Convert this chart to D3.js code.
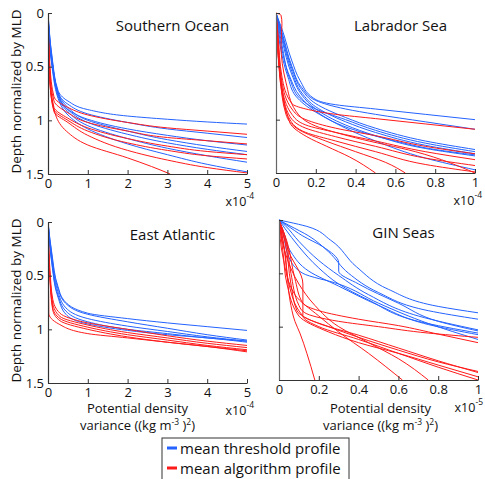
<!DOCTYPE html>
<html>
<head>
<meta charset="utf-8">
<script src="https://cdn.jsdelivr.net/npm/d3@7"></script>
<style>
  body { margin: 0; background: #fff; }
  text { font-family: "Open Sans", "Noto Sans", sans-serif; fill: #111; }
</style>
</head>
<body>
<div id="chart"></div>
<script>
// regions shown in the four panels
const regions = ["Southern Ocean", "Labrador Sea", "East Atlantic", "GIN Seas"];
const xMaxes = [5, 1, 5, 1];
const xTicksWide = [0, 1, 2, 3, 4, 5];
const xTicksNarrow = [0, 0.2, 0.4, 0.6, 0.8, 1];
const yTicks = [0, 0.5, 1, 1.5];
const exponents = ["-4", "-4", "-4", "-5"];
const legendLabels = ["mean threshold profile", "mean algorithm profile"];

// profiles: [variance, normalized depth]
const soBlue = [
  [[0,0],[0.1,0.4],[0.25,0.72],[0.5,0.82],[1,0.9],[2,0.96],[3,0.99],[4,1.015],[5,1.035]],
  [[0,0],[0.1,0.42],[0.25,0.74],[0.5,0.85],[1,0.94],[2,1.02],[3,1.08],[4,1.12],[5,1.16]],
  [[0,0],[0.1,0.45],[0.3,0.78],[0.5,0.88],[1,1.0],[2,1.1],[3,1.18],[4,1.24],[5,1.29]],
  [[0,0],[0.1,0.45],[0.3,0.8],[0.5,0.9],[1,1.02],[2,1.13],[3,1.21],[4,1.27],[5,1.32]],
  [[0,0],[0.1,0.48],[0.3,0.82],[0.5,0.92],[1,1.05],[2,1.17],[3,1.26],[4,1.33],[5,1.39]],
  [[0,0],[0.1,0.5],[0.3,0.84],[0.5,0.95],[1,1.08],[2,1.22],[3,1.32],[4,1.41],[5,1.48]],
  [[0,0],[0.1,0.44],[0.3,0.8],[0.5,0.9],[1,0.99],[2,1.08],[3,1.14],[4,1.19],[5,1.23]]
];
const soRed = [
  [[0,0],[0.05,0.5],[0.15,0.78],[0.5,0.88],[1,0.95],[2,1.02],[3,1.07],[4,1.1],[5,1.13]],
  [[0,0],[0.05,0.55],[0.15,0.82],[0.5,0.93],[1,1.02],[2,1.1],[3,1.16],[4,1.19],[5,1.22]],
  [[0,0],[0.05,0.6],[0.15,0.88],[0.5,0.98],[1,1.07],[2,1.17],[3,1.24],[4,1.29],[5,1.32]],
  [[0,0],[0.05,0.62],[0.15,0.9],[0.5,1.0],[1,1.1],[2,1.21],[3,1.28],[4,1.33],[5,1.36]],
  [[0,0],[0.05,0.65],[0.15,0.92],[0.5,1.02],[1,1.14],[2,1.28],[3,1.37],[4,1.44],[5,1.49]],
  [[0,0],[0.05,0.66],[0.2,0.96],[0.46,1.1],[1,1.23],[2,1.35],[2.6,1.43],[3.07,1.5]]
];
const lsBlue = [
  [[0,0],[0.03,0.15],[0.08,0.45],[0.12,0.63],[0.19,0.8],[0.3,0.86],[0.5,0.9],[0.75,0.95],[1,1.0]],
  [[0,0],[0.03,0.18],[0.08,0.5],[0.13,0.7],[0.2,0.82],[0.35,0.9],[0.5,0.95],[0.75,1.02],[1,1.09]],
  [[0,0],[0.03,0.2],[0.08,0.52],[0.13,0.72],[0.2,0.85],[0.35,0.98],[0.5,1.08],[0.75,1.2],[1,1.28]],
  [[0,0],[0.03,0.22],[0.08,0.55],[0.13,0.75],[0.2,0.88],[0.35,1.02],[0.5,1.12],[0.75,1.24],[1,1.32]],
  [[0,0],[0.03,0.25],[0.08,0.58],[0.13,0.77],[0.2,0.9],[0.35,1.05],[0.5,1.15],[0.75,1.27],[1,1.34]],
  [[0,0],[0.02,0.25],[0.07,0.6],[0.12,0.78],[0.2,0.92],[0.35,1.08],[0.5,1.2],[0.75,1.36],[1,1.47]],
  [[0,0],[0.03,0.3],[0.07,0.62],[0.12,0.8],[0.2,0.9],[0.35,1.0],[0.5,1.1],[0.75,1.22],[1,1.3]],
  [[0,0],[0.02,0.3],[0.06,0.6],[0.1,0.78],[0.2,0.93],[0.4,1.1],[0.6,1.2],[0.8,1.28],[1,1.33]]
];
const lsRed = [
  [[0,0],[0.01,0.2],[0.03,0.6],[0.08,0.85],[0.15,0.9],[0.3,0.95],[0.5,0.99],[0.75,1.04],[1,1.09]],
  [[0,0],[0.01,0.25],[0.03,0.65],[0.08,0.9],[0.15,1.0],[0.3,1.08],[0.5,1.15],[0.75,1.25],[1,1.32]],
  [[0,0],[0.01,0.3],[0.03,0.7],[0.08,0.95],[0.15,1.05],[0.3,1.12],[0.5,1.2],[0.75,1.3],[1,1.375]],
  [[0,0],[0.01,0.3],[0.03,0.72],[0.07,0.97],[0.15,1.08],[0.3,1.16],[0.5,1.25],[0.75,1.36],[1,1.43]],
  [[0,0],[0.01,0.35],[0.03,0.75],[0.07,1.0],[0.15,1.12],[0.3,1.2],[0.5,1.3],[0.75,1.42],[1,1.49]],
  [[0,0],[0.01,0.35],[0.02,0.6],[0.05,0.95],[0.12,1.1],[0.25,1.2],[0.4,1.3],[0.55,1.4],[0.65,1.5]],
  [[0,0],[0.01,0.4],[0.02,0.56],[0.07,1.03],[0.155,1.16],[0.255,1.25],[0.37,1.35],[0.5,1.5]],
  [[0,0],[0.025,0.02],[0.03,0.1],[0.025,0.3],[0.05,0.65],[0.1,0.92],[0.2,1.06],[0.4,1.17],[0.7,1.3],[1,1.5]]
];
const eaBlue = [
  [[0,0],[0.1,0.3],[0.25,0.6],[0.4,0.73],[1,0.85],[2,0.9],[3,0.94],[4,0.975],[5,1.01]],
  [[0,0],[0.1,0.32],[0.25,0.62],[0.45,0.76],[1,0.86],[2,0.93],[3,0.99],[4,1.05],[5,1.1]],
  [[0,0],[0.1,0.35],[0.25,0.65],[0.45,0.8],[1,0.9],[2,0.97],[3,1.02],[4,1.07],[5,1.11]],
  [[0,0],[0.1,0.38],[0.25,0.68],[0.45,0.83],[1,0.93],[2,1.0],[3,1.04],[4,1.08],[5,1.11]],
  [[0,0],[0.1,0.4],[0.25,0.7],[0.45,0.86],[1,0.95],[2,1.01],[3,1.05],[4,1.08],[5,1.12]]
];
const eaRed = [
  [[0,0],[0.05,0.45],[0.12,0.72],[0.3,0.85],[1,0.94],[2,1.0],[3,1.06],[4,1.11],[5,1.15]],
  [[0,0],[0.05,0.5],[0.12,0.76],[0.3,0.88],[1,0.96],[2,1.03],[3,1.08],[4,1.13],[5,1.17]],
  [[0,0],[0.05,0.52],[0.12,0.8],[0.3,0.9],[1,0.98],[2,1.05],[3,1.1],[4,1.15],[5,1.19]],
  [[0,0],[0.05,0.55],[0.12,0.82],[0.3,0.92],[1,1.0],[2,1.07],[3,1.12],[4,1.16],[5,1.2]],
  [[0,0],[0.01,0.4],[0.02,0.85],[0.27,0.95],[1,1.04],[2,1.08],[3,1.12],[4,1.16],[5,1.21]]
];
const ginBlue = [
  [[0,0],[0.05,0.02],[0.14,0.06],[0.26,0.19],[0.39,0.44],[0.55,0.65],[0.8,0.81],[1,0.87]],
  [[0,0],[0.05,0.05],[0.15,0.15],[0.25,0.3],[0.35,0.5],[0.5,0.68],[0.75,0.85],[1,0.93]],
  [[0,0],[0.03,0.05],[0.1,0.2],[0.2,0.38],[0.3,0.52],[0.45,0.7],[0.7,0.9],[1,1.03]],
  [[0,0],[0.03,0.08],[0.1,0.25],[0.2,0.45],[0.3,0.6],[0.45,0.75],[0.7,0.95],[1,1.06]],
  [[0,0],[0.02,0.1],[0.06,0.3],[0.15,0.48],[0.3,0.62],[0.5,0.8],[0.75,0.98],[1,1.075]],
  [[0,0],[0.02,0.12],[0.05,0.35],[0.12,0.5],[0.3,0.6],[0.5,0.78],[0.75,0.97],[1,1.12]],
  [[0,0],[0.04,0.05],[0.12,0.15],[0.22,0.25],[0.3,0.4],[0.3,0.48],[0.4,0.6],[0.6,0.78],[0.8,0.95],[1,1.04]]
];
const ginRed = [
  [[0,0],[0.02,0.19],[0.04,0.5],[0.055,0.75],[0.08,0.95],[0.105,1.06],[0.14,1.25],[0.18,1.5]],
  [[0,0],[0.03,0.15],[0.06,0.5],[0.1,0.8],[0.13,0.87],[0.3,0.95],[0.5,1.0],[0.75,1.06],[1,1.1]],
  [[0,0],[0.04,0.2],[0.08,0.55],[0.12,0.78],[0.2,0.85],[0.4,0.93],[0.6,0.99],[0.8,1.07],[1,1.15]],
  [[0,0],[0.03,0.3],[0.05,0.6],[0.12,0.9],[0.25,1.0],[0.4,1.1],[0.6,1.22],[0.8,1.33],[1,1.42]],
  [[0,0],[0.02,0.3],[0.04,0.6],[0.1,0.9],[0.25,1.05],[0.4,1.15],[0.6,1.25],[0.8,1.36],[1,1.47]],
  [[0,0],[0.05,0.3],[0.12,0.6],[0.12,0.9],[0.2,1.0],[0.4,1.12],[0.6,1.25],[0.8,1.38],[1,1.5]],
  [[0,0],[0.02,0.35],[0.08,0.7],[0.2,0.9],[0.3,1.05],[0.45,1.25],[0.62,1.5]],
  [[0,0],[0.03,0.3],[0.1,0.6],[0.18,0.8],[0.3,1.0],[0.45,1.15],[0.6,1.3],[0.75,1.5]],
  [[0,0],[0.03,0.2],[0.06,0.6],[0.09,0.85],[0.2,0.97],[0.4,1.08],[0.6,1.2],[0.8,1.32],[1,1.43]]
];

const blueProfiles = [soBlue, lsBlue, eaBlue, ginBlue];
const redProfiles = [soRed, lsRed, eaRed, ginRed];

const width = 485, height = 479;
const blue = "#2463ff", red = "#ff1a1a";

// panel boxes (left, right, top, bottom)
const boxes = [
  [48, 247, 13, 174],
  [276, 475, 13, 173],
  [48, 247, 222, 383],
  [279, 478, 220, 380]
];

const svg = d3.select("#chart").append("svg")
  .attr("width", width).attr("height", height);

// depth always increases along a profile, so interpolate x as a function of depth
const line = d3.line().curve(d3.curveMonotoneY);

regions.forEach(function(name, i) {
  const b = boxes[i];
  const x = d3.scaleLinear().domain([0, xMaxes[i]]).range([b[0], b[1]]);
  const y = d3.scaleLinear().domain([0, 1.5]).range([b[2], b[3]]);
  const g = svg.append("g");

  g.append("clipPath").attr("id", "clip" + i)
    .append("rect").attr("x", b[0]).attr("y", b[2] - 2)
    .attr("width", b[1] - b[0] + 2).attr("height", b[3] - b[2] + 2);

  const plot = g.append("g").attr("clip-path", "url(#clip" + i + ")");
  line.x(d => x(d[0])).y(d => y(d[1]));

  plot.selectAll("path.blue").data(blueProfiles[i]).enter()
    .append("path").attr("class", "blue")
    .attr("fill", "none").attr("stroke", blue).attr("stroke-width", 1)
    .attr("d", line);
  plot.selectAll("path.red").data(redProfiles[i]).enter()
    .append("path").attr("class", "red")
    .attr("fill", "none").attr("stroke", red).attr("stroke-width", 1)
    .attr("d", line);

  // axes, MATLAB style ticks pointing in
  const xt = xMaxes[i] === 5 ? xTicksWide : xTicksNarrow;
  const xAxis = d3.axisBottom(x).tickValues(xt).tickSize(-4).tickSizeOuter(0)
    .tickPadding(5).tickFormat(d3.format("~g"));
  const yAxis = d3.axisLeft(y).tickValues(yTicks).tickSize(-4).tickSizeOuter(0)
    .tickPadding(4).tickFormat(i % 2 === 0 ? d3.format("~g") : () => "");

  const gx = g.append("g").attr("transform", "translate(0," + b[3] + ")").call(xAxis);
  const gy = g.append("g").attr("transform", "translate(" + b[0] + ",0)").call(yAxis);
  [gx, gy].forEach(function(a) {
    a.select(".domain").attr("stroke", "#333").attr("stroke-width", 1.2);
    a.selectAll(".tick line").attr("stroke", "#333");
    a.selectAll(".tick text").style("font-size", "13px").attr("fill", "#111");
  });
  if (i % 2 === 1) gy.select(".domain").attr("stroke", "#666");

  g.append("text").attr("x", (b[0] + b[1]) / 2 + 25).attr("y", b[2] + 18)
    .attr("text-anchor", "middle").style("font-size", "15px").text(name);

  // exponent label under the right end of the x axis
  const ex = g.append("text").attr("x", Math.min(b[1] + 7, 483)).attr("y", b[3] + 32)
    .attr("text-anchor", "end").style("font-size", "12.5px");
  ex.append("tspan").text("x10");
  ex.append("tspan").attr("dy", -7).style("font-size", "8.5px").text(exponents[i]);

  if (i % 2 === 0) {
    g.append("text")
      .attr("transform", "translate(21," + ((b[2] + b[3]) / 2 - 2) + ") rotate(-90)")
      .attr("text-anchor", "middle").style("font-size", "13.5px")
      .text("Depth normalized by MLD");
  }
  if (i >= 2) {
    const cx = (b[0] + b[1]) / 2 - 10 + (i === 3 ? 12 : 0);
    const t1 = b[3] + 30 + (i === 3 ? 3 : 0);
    g.append("text").attr("x", cx).attr("y", t1).attr("text-anchor", "middle")
      .style("font-size", "13px").text("Potential density");
    const t2 = g.append("text").attr("x", cx).attr("y", t1 + 17).attr("text-anchor", "middle")
      .style("font-size", "13px");
    t2.append("tspan").text("variance ((kg m");
    t2.append("tspan").attr("dy", -5).style("font-size", "8.5px").text("-3");
    t2.append("tspan").attr("dy", 5).text(" )");
    t2.append("tspan").attr("dy", -5).style("font-size", "8.5px").text("2");
    t2.append("tspan").attr("dy", 5).text(")");
  }
});

// legend
const lg = svg.append("g");
lg.append("rect").attr("x", 162).attr("y", 438).attr("width", 187).attr("height", 50)
  .attr("fill", "#fff").attr("stroke", "#333").attr("stroke-width", 1);
legendLabels.forEach(function(lab, k) {
  const cy = 448 + k * 20;
  lg.append("rect").attr("x", 167).attr("y", cy - 1.5).attr("width", 10).attr("height", 3)
    .attr("fill", k === 0 ? blue : red);
  lg.append("text").attr("x", 180).attr("y", cy + 5.5).style("font-size", "15px").text(lab);
});
</script>
</body>
</html>
